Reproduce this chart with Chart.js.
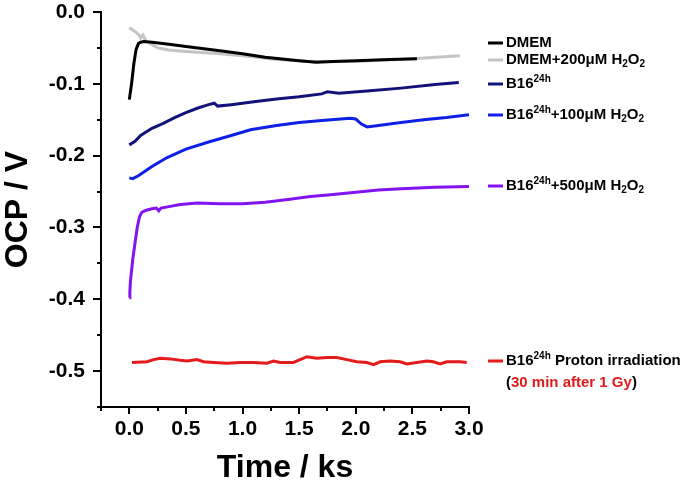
<!DOCTYPE html>
<html>
<head>
<meta charset="utf-8">
<script src="https://cdn.jsdelivr.net/npm/chart.js@4.4.0/dist/chart.umd.min.js"></script>
<style>
html, body { margin: 0; padding: 0; background: #fff; }
#wrap { width: 685px; height: 487px; position: relative; }
</style>
</head>
<body>
<div id="wrap"><canvas id="ocpChart"></canvas></div>
<script>
// time in ks, OCP in V
var dmemT = [0, 0.02, 0.04, 0.06, 0.08, 0.1, 0.13, 0.2, 0.35, 0.5, 0.8, 1.0, 1.2, 1.5, 1.65, 1.8, 2.0, 2.3, 2.54];
var dmemV = [-0.122, -0.100, -0.072, -0.052, -0.044, -0.042, -0.041, -0.042, -0.045, -0.048, -0.054, -0.058, -0.063, -0.068, -0.070, -0.069, -0.068, -0.066, -0.065];

var dmem200T = [0, 0.05, 0.08, 0.1, 0.12, 0.15, 0.25, 0.35, 0.5, 0.8, 1.0, 1.3, 1.6, 2.0, 2.5, 2.92];
var dmem200V = [-0.022, -0.027, -0.031, -0.036, -0.032, -0.041, -0.050, -0.053, -0.055, -0.058, -0.061, -0.066, -0.069, -0.069, -0.065, -0.061];

var b16T = [0, 0.05, 0.1, 0.2, 0.3, 0.4, 0.5, 0.6, 0.7, 0.75, 0.78, 0.9, 1.1, 1.3, 1.5, 1.7, 1.75, 1.85, 2.1, 2.4, 2.7, 2.91];
var b16V = [-0.185, -0.180, -0.172, -0.162, -0.155, -0.147, -0.140, -0.134, -0.129, -0.127, -0.131, -0.129, -0.125, -0.121, -0.118, -0.114, -0.111, -0.113, -0.110, -0.106, -0.101, -0.098];

var b16h100T = [0, 0.03, 0.08, 0.2, 0.33, 0.5, 0.7, 0.9, 1.07, 1.3, 1.5, 1.7, 1.95, 2.0, 2.05, 2.1, 2.2, 2.4, 2.6, 2.8, 3.0];
var b16h100V = [-0.231, -0.232, -0.228, -0.215, -0.203, -0.191, -0.181, -0.172, -0.164, -0.158, -0.154, -0.151, -0.148, -0.149, -0.156, -0.160, -0.158, -0.154, -0.150, -0.147, -0.143];

var b16h500T = [0, 0.005, 0.01, 0.02, 0.03, 0.05, 0.07, 0.09, 0.11, 0.15, 0.2, 0.24, 0.26, 0.28, 0.35, 0.45, 0.6, 0.8, 1.0, 1.2, 1.4, 1.6, 1.8, 2.0, 2.2, 2.4, 2.7, 3.0];
var b16h500V = [-0.398, -0.390, -0.375, -0.360, -0.345, -0.322, -0.300, -0.285, -0.279, -0.276, -0.274, -0.273, -0.277, -0.273, -0.271, -0.268, -0.266, -0.267, -0.267, -0.265, -0.261, -0.257, -0.254, -0.251, -0.248, -0.246, -0.244, -0.243];

var protonT = [0.024, 0.156, 0.215, 0.274, 0.362, 0.45, 0.509, 0.597, 0.656, 0.744, 0.862, 0.98, 1.097, 1.215, 1.274, 1.333, 1.45, 1.509, 1.568, 1.656, 1.745, 1.833, 1.921, 2.009, 2.098, 2.157, 2.215, 2.304, 2.392, 2.451, 2.539, 2.627, 2.686, 2.745, 2.804, 2.921, 2.98];
var protonV = [-0.488, -0.487, -0.484, -0.482, -0.483, -0.485, -0.486, -0.484, -0.487, -0.488, -0.489, -0.488, -0.488, -0.489, -0.486, -0.488, -0.488, -0.484, -0.480, -0.482, -0.481, -0.481, -0.484, -0.487, -0.488, -0.491, -0.487, -0.486, -0.487, -0.490, -0.488, -0.486, -0.487, -0.490, -0.487, -0.487, -0.488];

var xTicks = [0, 0.5, 1, 1.5, 2, 2.5, 3];
var xTickLabels = ['0.0', '0.5', '1.0', '1.5', '2.0', '2.5', '3.0'];
var xMinor = [-0.25, 0.25, 0.75, 1.25, 1.75, 2.25, 2.75];
var yTicks = [0, -0.1, -0.2, -0.3, -0.4, -0.5];
var yTickLabels = ['0.0', '-0.1', '-0.2', '-0.3', '-0.4', '-0.5'];
var yMinor = [-0.05, -0.15, -0.25, -0.35, -0.45, -0.55];

// legend text: [text, kind, colour]
var legendText = [
  [['DMEM', 'n']],
  [['DMEM+200\u03bcM H', 'n'], ['2', 'sub'], ['O', 'n'], ['2', 'sub']],
  [['B16', 'n'], ['24h', 'sup']],
  [['B16', 'n'], ['24h', 'sup'], ['+100\u03bcM H', 'n'], ['2', 'sub'], ['O', 'n'], ['2', 'sub']],
  [['B16', 'n'], ['24h', 'sup'], ['+500\u03bcM H', 'n'], ['2', 'sub'], ['O', 'n'], ['2', 'sub']],
  [['B16', 'n'], ['24h', 'sup'], [' Proton irradiation', 'n']]
];
var legendNote = [['(', 'n'], ['30 min after 1 Gy', 'n', '#e01b1b'], [')', 'n']];

function pts(t, v) {
  var out = [];
  for (let i = 0; i < t.length; i++) out.push({x: t[i], y: v[i]});
  return out;
}

var FONT = "'Liberation Sans', Arial, sans-serif";

function drawRich(ctx, x, y, parts) {
  ctx.textBaseline = 'middle';
  ctx.textAlign = 'left';
  for (let i = 0; i < parts.length; i++) {
    let p = parts[i];
    let dy = 0;
    if (p[1] == 'n') ctx.font = 'bold 15px ' + FONT;
    else ctx.font = 'bold 10px ' + FONT;
    if (p[1] == 'sup') dy = -5;
    if (p[1] == 'sub') dy = 4;
    ctx.fillStyle = p[2] || '#000';
    ctx.fillText(p[0], x, y + dy);
    x += ctx.measureText(p[0]).width;
  }
}

var extras = {
  id: 'extras',
  afterDraw: function(chart) {
    var ctx = chart.ctx;
    var xs = chart.scales.x, ys = chart.scales.y;
    ctx.save();
    // minor ticks
    ctx.strokeStyle = '#000';
    ctx.lineWidth = 2;
    ctx.beginPath();
    xMinor.forEach(function(v) {
      let px = Math.round(xs.getPixelForValue(v));
      ctx.moveTo(px, xs.top);
      ctx.lineTo(px, xs.top + 4);
    });
    yMinor.forEach(function(v) {
      let py = Math.round(ys.getPixelForValue(v));
      ctx.moveTo(ys.right - 4, py);
      ctx.lineTo(ys.right, py);
    });
    ctx.stroke();

    // legend
    var rowY = [43, 60, 84, 115, 186, 361];
    chart.data.datasets.forEach(function(ds, i) {
      ctx.strokeStyle = ds.borderColor;
      ctx.lineWidth = 3;
      ctx.beginPath();
      ctx.moveTo(488, rowY[i]);
      ctx.lineTo(503, rowY[i]);
      ctx.stroke();
      drawRich(ctx, 506, rowY[i], legendText[i]);
    });
    drawRich(ctx, 506, 383, legendNote);
    ctx.restore();
  }
};

var ctx = document.getElementById('ocpChart').getContext('2d');
var ocpChart = new Chart(ctx, {
  type: 'line',
  data: {
    datasets: [
      {data: pts(dmemT, dmemV), borderColor: '#000000'},
      {data: pts(dmem200T, dmem200V), borderColor: '#c4c4c4'},
      {data: pts(b16T, b16V), borderColor: '#12127a'},
      {data: pts(b16h100T, b16h100V), borderColor: '#0f20e6'},
      {data: pts(b16h500T, b16h500V), borderColor: '#8214f0'},
      {data: pts(protonT, protonV), borderColor: '#e41b1b'}
    ]
  },
  options: {
    responsive: true,
    maintainAspectRatio: false,
    animation: false,
    layout: {padding: {top: 12, right: 216, bottom: 0, left: 0}},
    elements: {
      line: {borderWidth: 3, tension: 0},
      point: {radius: 0}
    },
    plugins: {legend: {display: false}, tooltip: {enabled: false}},
    scales: {
      x: {
        type: 'linear',
        min: -0.25,
        max: 3.0,
        afterBuildTicks: function(scale) {
          scale.ticks = xTicks.map(function(v) { return {value: v}; });
        },
        afterFit: function(scale) {
          scale.height = 80;
          scale.paddingLeft = 0;
          scale.paddingRight = 0;
        },
        border: {display: true, color: '#000', width: 2},
        grid: {drawOnChartArea: false, drawTicks: true, tickLength: 7, color: '#000', lineWidth: 2},
        ticks: {
          color: '#000',
          padding: 3,
          maxRotation: 0,
          font: {family: FONT, size: 21, weight: 'bold'},
          callback: function(val, idx) { return xTickLabels[idx]; }
        },
        title: {
          display: true,
          text: 'Time / ks',
          color: '#000',
          font: {family: FONT, size: 32, weight: 'bold', lineHeight: 1},
          padding: {top: 0, bottom: 3}
        }
      },
      y: {
        type: 'linear',
        min: -0.55,
        max: 0,
        afterBuildTicks: function(scale) {
          scale.ticks = yTicks.map(function(v) { return {value: v}; });
        },
        afterFit: function(scale) {
          scale.width = 101;
          scale.paddingTop = 0;
          scale.paddingBottom = 0;
        },
        border: {display: true, color: '#000', width: 2},
        grid: {drawOnChartArea: false, drawTicks: true, tickLength: 8, color: '#000', lineWidth: 2},
        ticks: {
          color: '#000',
          padding: 8,
          font: {family: FONT, size: 21, weight: 'bold'},
          callback: function(val, idx) { return yTickLabels[idx]; }
        },
        title: {
          display: true,
          text: 'OCP / V',
          color: '#000',
          font: {family: FONT, size: 32, weight: 'bold', lineHeight: 1},
          padding: {top: 2, bottom: 0}
        }
      }
    }
  },
  plugins: [extras]
});
</script>
</body>
</html>
